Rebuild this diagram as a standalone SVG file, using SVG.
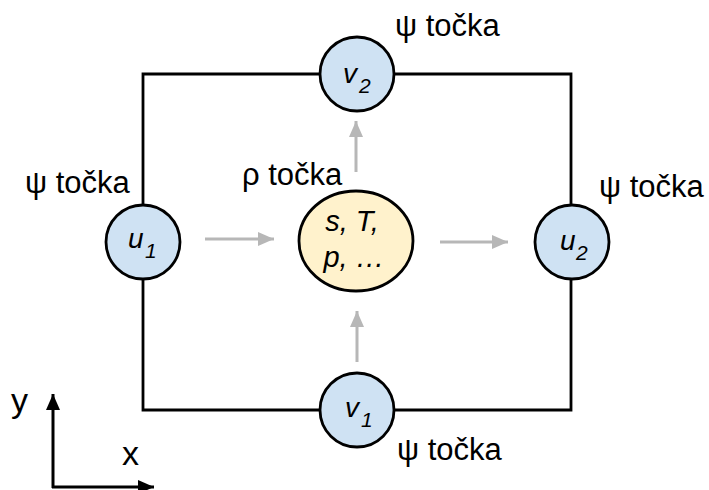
<svg xmlns="http://www.w3.org/2000/svg" width="709" height="490" viewBox="0 0 709 490">
<style>
.t{font-family:"Liberation Sans",Arial,sans-serif;fill:#000}
.lbl{font-size:31px}
.ax{font-size:34px}
.var{font-size:28px;font-style:italic}
.sub{font-size:21px;font-style:italic}
.in{font-size:29px;font-style:italic}
.node{fill:#cfe2f3;stroke:#000;stroke-width:2.8}
.rho{fill:#fff2cc;stroke:#000;stroke-width:2.8}
.edge{fill:none;stroke:#000;stroke-width:2.8}
.flow{stroke:#b7b7b7;stroke-width:3;fill:none;marker-end:url(#ga)}
.axis{stroke:#000;stroke-width:3;fill:none;marker-end:url(#ba)}
</style>
<defs>
<marker id="ga" markerUnits="userSpaceOnUse" markerWidth="18" markerHeight="14" refX="16" refY="7" orient="auto">
<path d="M0,0 L16,7 L0,14 Z" fill="#b7b7b7"/>
</marker>
<marker id="ba" markerUnits="userSpaceOnUse" markerWidth="18" markerHeight="14" refX="16" refY="7" orient="auto">
<path d="M0,0 L16,7 L0,14 Z" fill="#000"/>
</marker>
</defs>
<rect width="709" height="490" fill="#fff"/>
<g id="connectors">
<path class="edge" d="M143,74 H571 V410 H143 Z"/>
<line class="flow" x1="205" y1="239" x2="274" y2="239"/>
<line class="flow" x1="440" y1="242" x2="508" y2="242"/>
<line class="flow" x1="356" y1="172" x2="356" y2="121"/>
<line class="flow" x1="357" y1="362" x2="357" y2="311"/>
</g>
<g id="axes">
<line class="axis" x1="53" y1="488" x2="53" y2="394"/>
<line class="axis" x1="52" y1="487" x2="154" y2="487"/>
<text class="t ax" x="11" y="412">y</text>
<text class="t ax" x="122" y="465">x</text>
</g>
<g id="u1">
<circle class="node" cx="143" cy="242" r="37"/>
<text class="t var" x="128" y="248">u</text>
<text class="t sub" x="145" y="258">1</text>
<text class="t lbl" x="25" y="193">ψ točka</text>
</g>
<g id="u2">
<circle class="node" cx="572" cy="242" r="37"/>
<text class="t var" x="560" y="250">u</text>
<text class="t sub" x="576" y="260">2</text>
<text class="t lbl" x="599" y="197">ψ točka</text>
</g>
<g id="v2">
<circle class="node" cx="357" cy="74" r="37"/>
<text class="t var" x="343" y="83">v</text>
<text class="t sub" x="359" y="93">2</text>
<text class="t lbl" x="395" y="36">ψ točka</text>
</g>
<g id="v1">
<circle class="node" cx="357" cy="410" r="37"/>
<text class="t var" x="345" y="417">v</text>
<text class="t sub" x="361" y="427">1</text>
<text class="t lbl" x="397" y="460">ψ točka</text>
</g>
<g id="rho">
<ellipse class="rho" cx="356" cy="241" rx="57" ry="50"/>
<text class="t in" x="352" y="231" text-anchor="middle">s, T,</text>
<text class="t in" x="354" y="267" text-anchor="middle">p, …</text>
<text class="t lbl" x="242" y="185">ρ točka</text>
</g>
</svg>
